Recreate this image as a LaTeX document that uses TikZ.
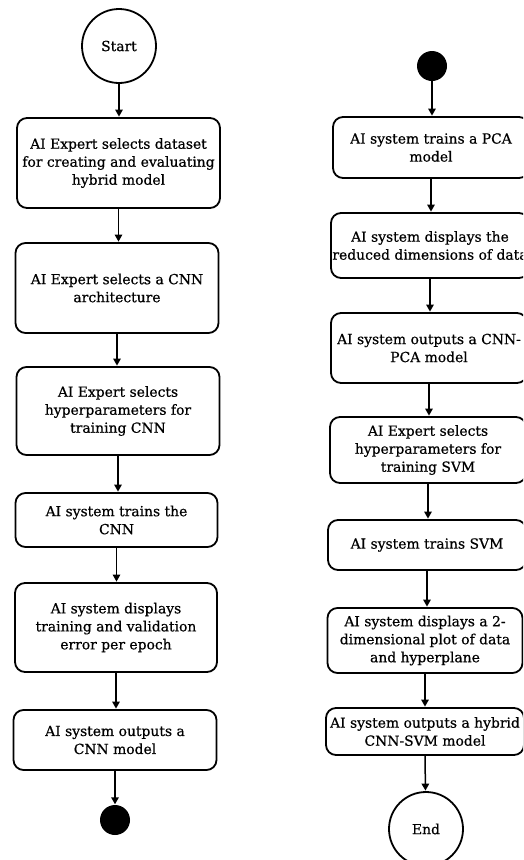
\documentclass[tikz,border=0pt]{standalone}
\usepackage{fontspec}
\setmainfont{DejaVu Serif}
\newfontfamily\flowfont[BoldFont={DejaVu Serif},BoldFeatures={FakeBold=0.6}]{DejaVu Serif}
\usetikzlibrary{arrows.meta}
\begin{document}
\begin{tikzpicture}[x=1pt,y=-1pt,
  txt/.style={font=\flowfont\bfseries\fontsize{13.9}{18}\selectfont},
  act/.style={txt, draw, line width=1.8pt, rounded corners=10pt, align=center, inner sep=0pt},
  terminal/.style={txt, draw, circle, line width=1.8pt, minimum size=74pt, inner sep=0pt},
  dot/.style={circle, fill=black, minimum size=30pt, inner sep=0pt},
  flow/.style={line width=1.5pt, -{Triangle[length=7pt,width=7.5pt]}, shorten >=0.5pt}
]
\useasboundingbox (0,0) rectangle (523,860);
\clip (0,0) rectangle (523,860);

% first column: CNN training
\node[terminal] (start) at (119,46) {Start};
\node[act, minimum width=203pt, minimum height=90pt] (b1) at (118.5,163)
  {AI Expert selects dataset\\for creating and evaluating\\hybrid model};
\node[act, minimum width=203pt, minimum height=90pt] (b2) at (117,288)
  {AI Expert selects a CNN\\architecture};
\node[act, minimum width=203pt, minimum height=88pt] (b3) at (118,411)
  {AI Expert selects\\hyperparameters for\\training CNN};
\node[act, minimum width=202pt, minimum height=54pt] (b4) at (116.5,520)
  {AI system trains the\\CNN};
\node[act, minimum width=202pt, minimum height=89pt] (b5) at (116,627.5)
  {AI system displays\\training and validation\\error per epoch};
\node[act, minimum width=203pt, minimum height=60pt] (b6) at (115,740)
  {AI system outputs a\\CNN model};
\node[dot] (stopA) at (115,820) {};

\draw[flow] (start.south) -- (start.south |- b1.north);
\draw[flow] (b1.south) -- (b1.south |- b2.north);
\draw[flow] (b2.south) -- (b2.south |- b3.north);
\draw[flow] (b3.south) -- (b3.south |- b4.north);
\draw[flow] (b4.south) -- (b4.south |- b5.north);
\draw[flow] (b5.south) -- (b5.south |- b6.north);
\draw[flow] (b6.south) -- (stopA);

% second column: PCA and SVM
\node[dot] (startB) at (432,66) {};
\node[act, minimum width=196pt, minimum height=61pt] (r1) at (431,147.5)
  {AI system trains a PCA\\model};
\node[act, minimum width=198pt, minimum height=65pt] (r2) at (430,245.5)
  {AI system displays the\\reduced dimensions of data};
\node[act, minimum width=196pt, minimum height=70pt] (r3) at (429,348)
  {AI system outputs a CNN-\\PCA model};
\node[act, minimum width=196pt, minimum height=66pt] (r4) at (428,450)
  {AI Expert selects\\hyperparameters for\\training SVM};
\node[act, minimum width=198pt, minimum height=50pt] (r5) at (427,545)
  {AI system trains SVM};
\node[act, minimum width=195pt, minimum height=65pt] (r6) at (425,640.5)
  {AI system displays a 2-\\dimensional plot of data\\and hyperplane};
\node[act, minimum width=198pt, minimum height=47pt] (r7) at (425,731.5)
  {AI system outputs a hybrid\\CNN-SVM model};
\node[terminal] (end) at (426,829) {End};

\draw[flow] (startB.south) -- (startB.south |- r1.north);
\draw[flow] (r1.south) -- (r1.south |- r2.north);
\draw[flow] (r2.south) -- (r2.south |- r3.north);
\draw[flow] (r3.south) -- (r3.south |- r4.north);
\draw[flow] (r4.south) -- (r4.south |- r5.north);
\draw[flow] (r5.south) -- (r5.south |- r6.north);
\draw[flow] (r6.south) -- (r6.south |- r7.north);
\draw[flow] (r7.south) -- (end);
\end{tikzpicture}
\end{document}
